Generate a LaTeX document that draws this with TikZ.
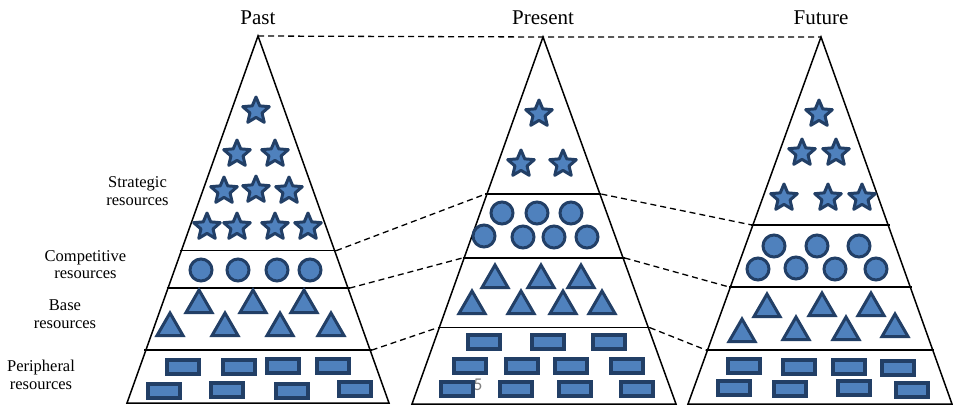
\documentclass[tikz,border=0pt]{standalone}
\usepackage{fontspec}
\setmainfont{Liberation Serif}
\newfontfamily\timesfont{Liberation Serif}
\newfontfamily\pagefont{Carlito}
\usepackage{tikz}
\usetikzlibrary{shapes.geometric,calc}
\definecolor{resfill}{HTML}{4F81BD}
\definecolor{resdraw}{HTML}{223F66}

\begin{document}
\begin{tikzpicture}[x=1pt, y=-1pt,
    pyr/.style = {draw, line width=1.5pt},
    link/.style = {dash pattern=on 6pt off 4pt, line width=1.3pt},
    res/.style = {draw=resdraw, fill=resfill, line width=3pt, inner sep=0pt},
    starres/.style = {res, star, star points=5, star point ratio=2.2, minimum size=28pt, line join=round},
    circres/.style = {res, circle, minimum size=22pt},
    trires/.style = {res, regular polygon, regular polygon sides=3, minimum size=30pt, yshift=-4pt},
    rectres/.style = {res, rectangle, line width=3.2pt, minimum width=32pt, minimum height=14pt},
    title/.style = {font=\timesfont\fontsize{21}{25}\selectfont, anchor=base},
    layer/.style = {font=\timesfont\fontsize{16.5}{17.5}\selectfont, align=center}]
    \useasboundingbox (0,0) rectangle (953,405);

    % pyramids
    \coordinate (past) at (258,36);    \coordinate (pastbl) at (127,403);    \coordinate (pastbr) at (389,403);
    \coordinate (present) at (543,37); \coordinate (presentbl) at (412,404); \coordinate (presentbr) at (676,404);
    \coordinate (future) at (821,37);  \coordinate (futurebl) at (688,404);  \coordinate (futurebr) at (952,404);
    \draw[pyr] (pastbl) -- (past) -- (pastbr) -- cycle;
    \draw[pyr] (presentbl) -- (present) -- (presentbr) -- cycle;
    \draw[pyr] (futurebl) -- (future) -- (futurebr) -- cycle;

    % layer lines
    \foreach \p/\t/\k in {past/0.585/1, past/0.687/2, past/0.856/3,
                          present/0.428/1, present/0.602/2, present/0.792/3,
                          future/0.512/1, future/0.681/2, future/0.853/3} {
        \coordinate (\p l\k) at ($(\p)!\t!(\p bl)+(-1.5,0)$);
        \coordinate (\p r\k) at ($(\p)!\t!(\p br)+(1.5,0)$);
        \draw[pyr] (\p l\k) -- (\p r\k);
    }

    \draw[link] (past) -- (present) -- (future);
    \foreach \k in {1,2,3} {
        \draw[link] (pastr\k) -- (presentl\k);
        \draw[link] (presentr\k) -- (futurel\k);
    }

    \node[text=gray, font=\pagefont\fontsize{18}{18}\selectfont] (pageno) at (478,385) {5};

    % past
    \foreach \x/\y [count=\i] in {256/111, 237/154, 275/154, 224/191, 256/190, 289/191, 207/227, 237/227, 275/227, 308/227}
        \node[starres] (past-s\i) at (\x,\y) {};
    \foreach \x/\y [count=\i] in {201/270, 238/270, 277/270, 310/270}
        \node[circres] (past-c\i) at (\x,\y) {};
    \foreach \x/\y [count=\i] in {199/301, 253/301, 304/301, 170/324, 225/324, 280/324, 331/324}
        \node[trires] (past-t\i) at (\x,\y) {};
    \foreach \x/\y [count=\i] in {183/367, 239/367, 283/366, 333/366, 164/391, 227/390, 292/391, 355/389}
        \node[rectres] (past-r\i) at (\x,\y) {};

    % present
    \foreach \x/\y [count=\i] in {539/114, 521/164, 563/164}
        \node[starres] (present-s\i) at (\x,\y) {};
    \foreach \x/\y [count=\i] in {502/213, 537/213, 571/213, 484/236, 523/237, 554/237, 587/237}
        \node[circres] (present-c\i) at (\x,\y) {};
    \foreach \x/\y [count=\i] in {495/276, 541/276, 581/276, 472/302, 521/302, 563/302, 602/302}
        \node[trires] (present-t\i) at (\x,\y) {};
    \foreach \x/\y [count=\i] in {484/342, 548/342, 609/342, 470/366, 522/366, 571/366, 627/366, 457/389, 516/389, 575/389, 637/389}
        \node[rectres] (present-r\i) at (\x,\y) {};

    % future
    \foreach \x/\y [count=\i] in {819/114, 802/153, 836/153, 784/198, 828/198, 862/198}
        \node[starres] (future-s\i) at (\x,\y) {};
    \foreach \x/\y [count=\i] in {774/246, 817/246, 859/246, 758/269, 796/268, 835/269, 876/269}
        \node[circres] (future-c\i) at (\x,\y) {};
    \foreach \x/\y [count=\i] in {767/305, 822/304, 871/304, 742/330, 796/328, 846/328, 895/325}
        \node[trires] (future-t\i) at (\x,\y) {};
    \foreach \x/\y [count=\i] in {744/366, 799/367, 849/367, 898/368, 734/388, 790/389, 854/388, 912/390}
        \node[rectres] (future-r\i) at (\x,\y) {};

    \node[title] (tpast) at (258,24) {Past};
    \node[title] (tpresent) at (543,24) {Present};
    \node[title] (tfuture) at (821,24) {Future};

    \node[layer] (strategic) at (137.5,191) {Strategic\\resources};
    \node[layer] (competitive) at (85.5,264.5) {Competitive\\resources};
    \node[layer] (base) at (65,314) {Base\\resources};
    \node[layer] (peripheral) at (41,375) {Peripheral\\resources};
\end{tikzpicture}
\end{document}
